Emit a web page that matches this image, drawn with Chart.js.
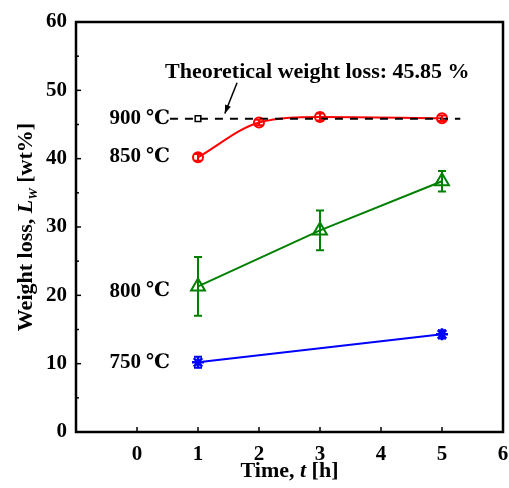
<!DOCTYPE html>
<html>
<head>
    <title>Weight loss vs time</title>
    <style>
        body { margin: 0; background: #fff; }
        canvas { display: block; }
    </style>
</head>
<body>
    <canvas id="chart" width="509" height="488"></canvas>

    <script src="https://cdn.jsdelivr.net/npm/chart.js"></script>
    <script>
        // data
        const times750 = [1, 5];
        const loss750 = [10.2, 14.3];
        const err750 = [0.8, 0.6];

        const times800 = [1, 3, 5];
        const loss800 = [21.3, 29.5, 36.7];
        const err800 = [4.3, 2.9, 1.5];

        const times850 = [1, 2, 3, 5];
        const loss850 = [40.2, 45.3, 46.1, 45.9];
        const err850 = [0.5, 0.4, 0.5, 0.4];

        const times900 = [1];
        const loss900 = [45.85];

        const theoreticalLoss = 45.85;
        const theoreticalSpan = [0.54, 5.3];

        const tempLabels = ['900', '850', '800', '750'];
        const tempLabelLevels = [45.85, 40.3, 20.6, 10.1];

        const xTicks = [-1, 0, 1, 2, 3, 4, 5, 6];
        const yTicks = [0, 10, 20, 30, 40, 50, 60];

        const serif = '"Liberation Serif", "Times New Roman", "Noto Sans CJK SC", serif';
        const celsiusFont = '"DejaVu Serif", "Noto Sans CJK SC", serif';

        const pts = (xs, ys) => xs.map((x, i) => ({ x: x, y: ys[i] }));

        const errorSets = [
            { xs: times750, ys: loss750, err: err750, color: '#0000ff' },
            { xs: times800, ys: loss800, err: err800, color: '#008000' },
            { xs: times850, ys: loss850, err: err850, color: '#ff0000' }
        ];

        // stretch the plot to the right edge like the original figure
        const areaPlugin = {
            id: 'area',
            afterLayout(chart) {
                const xs = chart.scales.x;
                const right = chart.width - 6;
                xs.right = right;
                xs.width = right - xs.left;
                xs.configure();
                chart.chartArea.right = right;
                chart.chartArea.width = right - chart.chartArea.left;
            }
        };

        const decorPlugin = {
            id: 'decor',
            afterDatasetsDraw(chart) {
                const ctx = chart.ctx;
                const xs = chart.scales.x;
                const ys = chart.scales.y;
                const area = chart.chartArea;
                ctx.save();

                // error bars
                ctx.lineWidth = 2;
                errorSets.forEach(s => {
                    ctx.strokeStyle = s.color;
                    s.xs.forEach((t, i) => {
                        const px = xs.getPixelForValue(t);
                        const top = ys.getPixelForValue(s.ys[i] + s.err[i]);
                        const bot = ys.getPixelForValue(s.ys[i] - s.err[i]);
                        ctx.beginPath();
                        ctx.moveTo(px, top); ctx.lineTo(px, bot);
                        ctx.moveTo(px - 4, top); ctx.lineTo(px + 4, top);
                        ctx.moveTo(px - 4, bot); ctx.lineTo(px + 4, bot);
                        ctx.stroke();
                    });
                });

                // frame
                ctx.strokeStyle = '#000';
                ctx.lineWidth = 2.5;
                ctx.strokeRect(area.left, area.top, area.right - area.left, area.bottom - area.top);

                // inward ticks
                ctx.lineWidth = 1.5;
                ys.ticks.forEach(tk => {
                    const py = ys.getPixelForValue(tk.value);
                    const len = tk.value % 10 === 0 ? 5 : 3;
                    ctx.beginPath();
                    ctx.moveTo(area.left, py); ctx.lineTo(area.left + len, py);
                    ctx.stroke();
                });
                xTicks.forEach(v => {
                    if (v <= -1 || v >= 6) return;
                    const px = xs.getPixelForValue(v);
                    ctx.beginPath();
                    ctx.moveTo(px, area.bottom); ctx.lineTo(px, area.bottom - 5);
                    ctx.stroke();
                });

                // temperature labels
                ctx.fillStyle = '#000';
                ctx.textBaseline = 'middle';
                tempLabels.forEach((txt, i) => {
                    const ly = ys.getPixelForValue(tempLabelLevels[i]);
                    const rx = xs.getPixelForValue(0.54);
                    ctx.textAlign = 'right';
                    ctx.font = 'bold 20px ' + celsiusFont;
                    ctx.fillText('\u2103', rx, ly);
                    ctx.font = 'bold 21px ' + serif;
                    ctx.fillText(txt, rx - 29, ly);
                });

                // theoretical note and arrow
                ctx.textAlign = 'left';
                ctx.font = 'bold 22px ' + serif;
                ctx.fillText('Theoretical weight loss: 45.85 %', xs.getPixelForValue(0.46), ys.getPixelForValue(52.7));
                const ax0 = xs.getPixelForValue(1.64), ay0 = ys.getPixelForValue(51.1);
                const ax1 = xs.getPixelForValue(1.44), ay1 = ys.getPixelForValue(46.6);
                ctx.lineWidth = 1.5;
                ctx.beginPath();
                ctx.moveTo(ax0, ay0); ctx.lineTo(ax1, ay1);
                ctx.stroke();
                const ang = Math.atan2(ay1 - ay0, ax1 - ax0);
                ctx.beginPath();
                ctx.moveTo(ax1, ay1);
                ctx.lineTo(ax1 - 9 * Math.cos(ang - 0.35), ay1 - 9 * Math.sin(ang - 0.35));
                ctx.lineTo(ax1 - 9 * Math.cos(ang + 0.35), ay1 - 9 * Math.sin(ang + 0.35));
                ctx.closePath();
                ctx.fill();

                // axis titles
                const midX = (area.left + area.right) / 2;
                ctx.textBaseline = 'alphabetic';
                const xParts = [['Time, ', 'bold 22px'], ['t', 'italic bold 22px'], [' [h]', 'bold 22px']];
                let w = 0;
                xParts.forEach(p => { ctx.font = p[1] + ' ' + serif; w += ctx.measureText(p[0]).width; });
                let cx = midX - w / 2;
                xParts.forEach(p => {
                    ctx.font = p[1] + ' ' + serif;
                    ctx.fillText(p[0], cx, 477);
                    cx += ctx.measureText(p[0]).width;
                });

                const midY = (area.top + area.bottom) / 2;
                ctx.translate(32, midY);
                ctx.rotate(-Math.PI / 2);
                const yParts = [['Weight loss, ', 'bold 22px', 0], ['L', 'italic bold 22px', 0], ['W', 'italic bold 13px', 5], [' [wt%]', 'bold 22px', 0]];
                w = 0;
                yParts.forEach(p => { ctx.font = p[1] + ' ' + serif; w += ctx.measureText(p[0]).width; });
                cx = -w / 2;
                yParts.forEach(p => {
                    ctx.font = p[1] + ' ' + serif;
                    ctx.fillText(p[0], cx, p[2]);
                    cx += ctx.measureText(p[0]).width;
                });

                ctx.restore();
            }
        };

        const ctx = document.getElementById('chart').getContext('2d');
        new Chart(ctx, {
            type: 'scatter',
            data: {
                datasets: [
                    {
                        label: 'Theoretical',
                        data: pts(theoreticalSpan, [theoreticalLoss, theoreticalLoss]),
                        showLine: true,
                        borderColor: '#000',
                        borderWidth: 2,
                        borderDash: [8, 7],
                        pointRadius: 0
                    },
                    {
                        label: '900',
                        data: pts(times900, loss900),
                        pointStyle: 'rect',
                        pointRadius: 4,
                        borderColor: '#000',
                        backgroundColor: '#fff',
                        borderWidth: 1.5
                    },
                    {
                        label: '850',
                        data: pts(times850, loss850),
                        showLine: true,
                        cubicInterpolationMode: 'monotone',
                        borderColor: '#ff0000',
                        backgroundColor: 'rgba(0,0,0,0)',
                        borderWidth: 2,
                        pointStyle: 'circle',
                        pointRadius: 5,
                        pointBorderWidth: 2
                    },
                    {
                        label: '800',
                        data: pts(times800, loss800),
                        showLine: true,
                        borderColor: '#008000',
                        backgroundColor: 'rgba(0,0,0,0)',
                        borderWidth: 2,
                        pointStyle: 'triangle',
                        pointRadius: 8,
                        pointBorderWidth: 2
                    },
                    {
                        label: '750',
                        data: pts(times750, loss750),
                        showLine: true,
                        borderColor: '#0000ff',
                        backgroundColor: '#0000ff',
                        borderWidth: 2,
                        pointStyle: 'star',
                        pointRadius: 6,
                        pointBorderWidth: 2.5
                    }
                ]
            },
            options: {
                responsive: false,
                animation: false,
                layout: { padding: { top: 22, right: 0, left: 0, bottom: 0 } },
                plugins: {
                    legend: { display: false },
                    tooltip: { enabled: false }
                },
                scales: {
                    x: {
                        type: 'linear',
                        min: xTicks[0],
                        max: xTicks[xTicks.length - 1],
                        afterBuildTicks: s => { s.ticks = xTicks.map(v => ({ value: v })); },
                        afterFit: s => { s.height = 56; },
                        grid: { display: false, drawTicks: false },
                        border: { display: false },
                        ticks: {
                            padding: 10,
                            color: '#000',
                            font: { family: serif, size: 21, weight: 'bold' },
                            callback: v => v === -1 ? '' : String(v)
                        }
                    },
                    y: {
                        min: yTicks[0],
                        max: yTicks[yTicks.length - 1],
                        afterFit: s => { s.width = 76; s.paddingTop = 0; s.paddingBottom = 0; },
                        grid: { display: false, drawTicks: false },
                        border: { display: false },
                        ticks: {
                            stepSize: 5,
                            padding: 9,
                            color: '#000',
                            font: { family: serif, size: 21, weight: 'bold' },
                            callback: v => yTicks.includes(v) ? String(v) : ''
                        }
                    }
                }
            },
            plugins: [areaPlugin, decorPlugin]
        });
    </script>
</body>
</html>
